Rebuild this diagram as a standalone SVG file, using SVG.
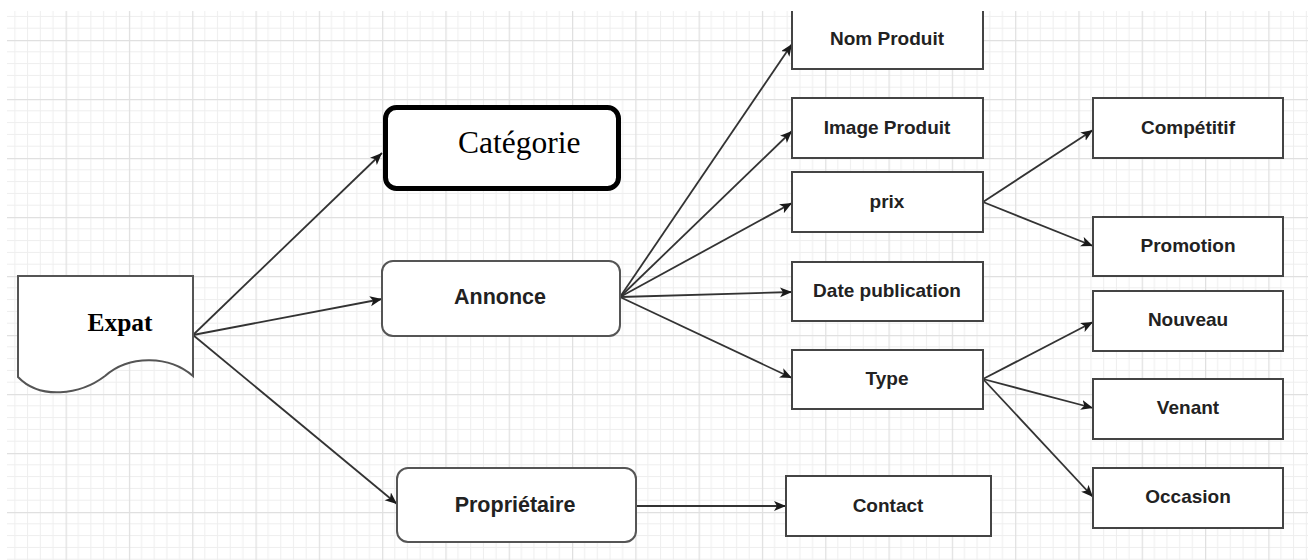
<svg xmlns="http://www.w3.org/2000/svg" width="1308" height="560" viewBox="0 0 1308 560">
<style>
.box{fill:#fff;stroke:#444;stroke-width:2}
.rbox{fill:#fff;stroke:#555;stroke-width:2}
.lbl{font-family:"Liberation Sans",Arial,sans-serif;font-weight:bold;font-size:19px;fill:#222;text-anchor:middle}
.big{font-size:21.5px}
.edge{fill:none;stroke:#333;stroke-width:1.8;marker-end:url(#arr)}
</style>
<defs>
<marker id="arr" markerUnits="userSpaceOnUse" markerWidth="14" markerHeight="12" refX="12" refY="5" orient="auto">
<path d="M0,0 L12,5 L0,10 L3,5 Z" fill="#1a1a1a"/>
</marker>
<pattern id="grid" patternUnits="userSpaceOnUse" x="2.3" y="40" width="63.3" height="59">
<g fill="#eeeeee">
<rect x="12.16" y="0" width="1" height="59"/>
<rect x="24.82" y="0" width="1" height="59"/>
<rect x="37.48" y="0" width="1" height="59"/>
<rect x="50.14" y="0" width="1" height="59"/>
<rect x="0" y="11.3" width="63.3" height="1"/>
<rect x="0" y="23.1" width="63.3" height="1"/>
<rect x="0" y="34.9" width="63.3" height="1"/>
<rect x="0" y="46.7" width="63.3" height="1"/>
</g>
<g fill="#e0e0e0">
<rect x="-0.25" y="0" width="1.5" height="59"/>
<rect x="0" y="-0.25" width="63.3" height="1.5"/>
</g>
</pattern>
<clipPath id="area"><rect x="7" y="11" width="1301" height="549"/></clipPath>
</defs>
<rect x="0" y="0" width="1308" height="560" fill="#fff"/>
<g clip-path="url(#area)">
<rect x="7" y="11" width="1301" height="549" fill="url(#grid)"/>

<g id="connectors">
<path class="edge" d="M193,335 L382,153"/>
<path class="edge" d="M193,335 L382,299"/>
<path class="edge" d="M193,335 L397,504"/>
<path class="edge" d="M620,297 L792,44"/>
<path class="edge" d="M620,297 L792,131"/>
<path class="edge" d="M620,297 L792,203"/>
<path class="edge" d="M620,297 L792,292"/>
<path class="edge" d="M620,297 L792,378"/>
<path class="edge" d="M983,202 L1093,130"/>
<path class="edge" d="M983,202 L1093,246"/>
<path class="edge" d="M983,379 L1093,322"/>
<path class="edge" d="M983,379 L1093,408"/>
<path class="edge" d="M983,379 L1093,497"/>
<path class="edge" d="M636,506 L786,506"/>
</g>

<g id="expat">
<path d="M18,276 H193 V376 C170,356 130,354 105,376 C80,395 40,400 18,377 Z" fill="#fff" stroke="#555" stroke-width="2"/>
<text x="120" y="331" font-family="'Liberation Serif','Times New Roman',serif" font-weight="bold" font-size="25.5" fill="#000" text-anchor="middle">Expat</text>
</g>

<g id="categorie">
<rect x="385.5" y="107.5" width="233" height="81" rx="11" fill="#fff" stroke="#000" stroke-width="5"/>
<text x="458" y="153" font-family="'Liberation Serif','Times New Roman',serif" font-size="31.5" fill="#000">Catégorie</text>
</g>

<g id="annonce">
<rect class="rbox" x="382" y="261" width="238" height="75" rx="11"/>
<text class="lbl big" x="500" y="304">Annonce</text>
</g>

<g id="proprietaire">
<rect class="rbox" x="397" y="468" width="239" height="74" rx="11"/>
<text class="lbl big" x="515" y="512">Propriétaire</text>
</g>

<g id="nom-produit">
<rect class="box" x="792" y="5" width="191" height="64"/>
<text class="lbl" x="887" y="45">Nom Produit</text>
</g>
<g id="image-produit">
<rect class="box" x="792" y="98" width="191" height="60"/>
<text class="lbl" x="887" y="134">Image Produit</text>
</g>
<g id="prix">
<rect class="box" x="792" y="172" width="191" height="60"/>
<text class="lbl" x="887" y="208">prix</text>
</g>
<g id="date-publication">
<rect class="box" x="792" y="262" width="191" height="59"/>
<text class="lbl" x="887" y="297">Date publication</text>
</g>
<g id="type">
<rect class="box" x="792" y="350" width="191" height="59"/>
<text class="lbl" x="887" y="385">Type</text>
</g>
<g id="competitif">
<rect class="box" x="1093" y="98" width="190" height="60"/>
<text class="lbl" x="1188" y="134">Compétitif</text>
</g>
<g id="promotion">
<rect class="box" x="1093" y="217" width="190" height="59"/>
<text class="lbl" x="1188" y="252">Promotion</text>
</g>
<g id="nouveau">
<rect class="box" x="1093" y="291" width="190" height="60"/>
<text class="lbl" x="1188" y="326">Nouveau</text>
</g>
<g id="venant">
<rect class="box" x="1093" y="379" width="190" height="60"/>
<text class="lbl" x="1188" y="414">Venant</text>
</g>
<g id="occasion">
<rect class="box" x="1093" y="468" width="190" height="60"/>
<text class="lbl" x="1188" y="503">Occasion</text>
</g>
<g id="contact">
<rect class="box" x="786" y="476" width="205" height="60"/>
<text class="lbl" x="888" y="512">Contact</text>
</g>
</g>
</svg>
